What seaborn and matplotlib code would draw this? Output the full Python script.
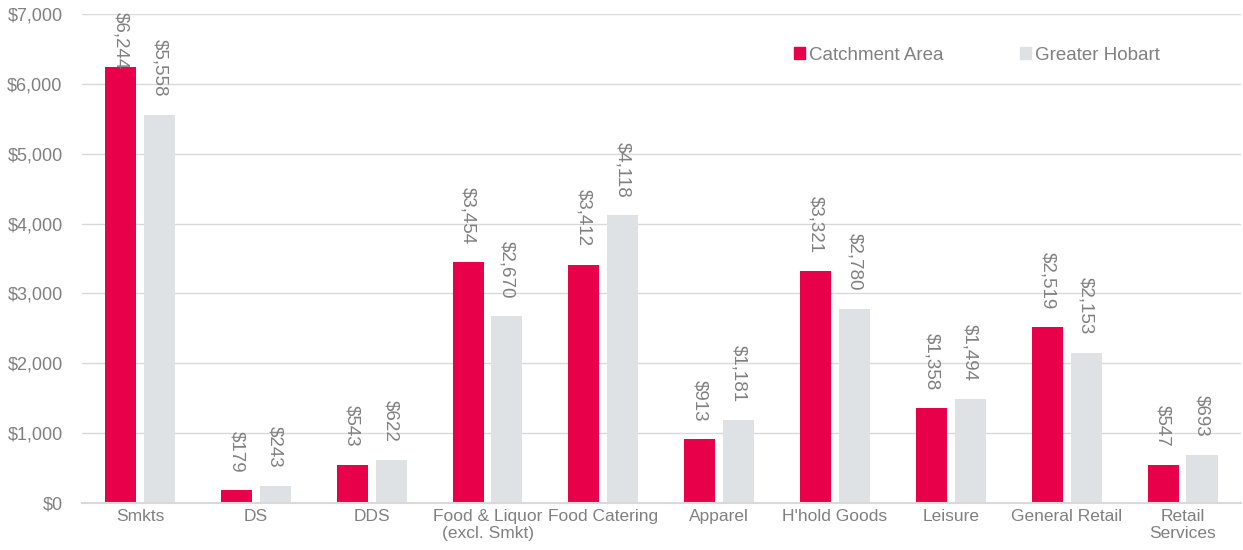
import numpy as np
import pandas as pd
import matplotlib.pyplot as plt
import seaborn as sns
from matplotlib.patches import Patch

categories = ['Smkts', 'DS', 'DDS', 'Food & Liquor\n(excl. Smkt)', 'Food Catering',
              'Apparel', "H'hold Goods", 'Leisure', 'General Retail', 'Retail\nServices']
catchment = [6244, 179, 543, 3454, 3412, 913, 3321, 1358, 2519, 547]
hobart = [5558, 243, 622, 2670, 4118, 1181, 2780, 1494, 2153, 693]
series = ['Catchment Area', 'Greater Hobart']

df = pd.DataFrame({
    'category': categories * 2,
    'value': catchment + hobart,
    'series': [series[0]] * len(categories) + [series[1]] * len(categories),
})

red = '#E8004A'
grey = '#DEE2E5'
txt = '#808080'

sns.set_style('white')
plt.rcParams['font.family'] = ['Liberation Sans', 'DejaVu Sans']

fig = plt.figure(figsize=(12.43, 5.5), dpi=100)
ax = fig.add_axes([0.066, 0.0855, 0.932, 0.889])

sns.barplot(data=df, x='category', y='value', hue='series', palette=[red, grey],
            saturation=1, width=0.67, gap=0.2, linewidth=0, ax=ax, legend=False)

ax.set_ylim(0, 7000)
ax.set_xlim(-0.5, len(categories) - 0.5)

# value labels, rotated, sitting just above each bar
labels = []
for cont in ax.containers:
    for bar in cont:
        h = bar.get_height()
        t = ax.annotate(f'${h:,.0f}', (bar.get_x() + bar.get_width() / 2, h),
                        xytext=(0, 13), textcoords='offset points',
                        rotation=270, ha='center', va='bottom', fontsize=13.5, color=txt)
        labels.append(t)

ax.set_yticks(range(0, 7001, 1000))
ax.set_yticklabels([f'${v:,}' for v in range(0, 7001, 1000)])
ax.yaxis.grid(True, color='#D9D9D9', linewidth=1)
ax.set_axisbelow(True)
for s in ['top', 'right', 'left']:
    ax.spines[s].set_visible(False)
ax.spines['bottom'].set_color('#D9D9D9')
ax.spines['bottom'].set_linewidth(1.5)
ax.tick_params(axis='x', length=0, labelsize=12.5, colors=txt, pad=4)
ax.tick_params(axis='y', length=0, labelsize=13, colors=txt, pad=14)
ax.set_xlabel('')
ax.set_ylabel('')

handles = [Patch(color=red, label=series[0]), Patch(color=grey, label=series[1])]
leg = ax.legend(handles=handles, loc='upper right', bbox_to_anchor=(0.945, 0.967), ncol=2,
                frameon=False, fontsize=13.5, handlelength=0.6, handleheight=0.6,
                handletextpad=0.2, columnspacing=4.1)
for t in leg.get_texts():
    t.set_color(txt)

# keep labels inside the plot area like the original (clamped at the top)
fig.canvas.draw()
top_px = ax.transAxes.transform((0, 1))[1] + 2
for t in labels:
    bb = t.get_window_extent()
    if bb.y1 > top_px:
        shift = (bb.y1 - top_px) * 72 / fig.dpi
        x0, y0 = t.xyann
        t.xyann = (x0, y0 - shift)

fig.savefig('out.png', dpi=100)
